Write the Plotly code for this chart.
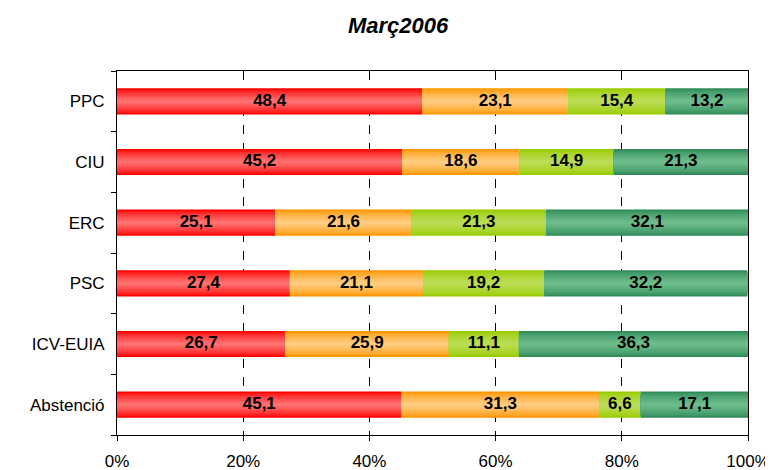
import plotly.graph_objects as go

parties = ["PPC", "CIU", "ERC", "PSC", "ICV-EUIA", "Abstenció"]
s1 = [48.4, 45.2, 25.1, 27.4, 26.7, 45.1]
s2 = [23.1, 18.6, 21.6, 21.1, 25.9, 31.3]
s3 = [15.4, 14.9, 21.3, 19.2, 11.1, 6.6]
s4 = [13.2, 21.3, 32.1, 32.2, 36.3, 17.1]

series = [s1, s2, s3, s4]
# edge colour -> centre colour, to fake the vertical gradient of the bars
shades = [
    ((255, 0, 0), (255, 112, 112)),
    ((255, 150, 0), (255, 204, 128)),
    ((153, 204, 0), (187, 221, 85)),
    ((46, 139, 87), (110, 188, 140)),
]
n_layers = 9
bar_w = 0.43


def mix(a, b, t):
    return "rgb(%d,%d,%d)" % tuple(round(a[k] + (b[k] - a[k]) * t) for k in range(3))


fig = go.Figure()
base = [0.0] * len(parties)
lx, ly, lt = [], [], []
for vals, (edge, centre) in zip(series, shades):
    for k in range(n_layers):
        t = k / (n_layers - 1)
        w = bar_w * (1 - t * 0.9)
        fig.add_trace(go.Bar(
            y=parties, x=vals, base=base, orientation="h", width=w,
            marker=dict(color=mix(edge, centre, t ** 0.7), line=dict(width=0)),
            hoverinfo="skip", showlegend=False,
        ))
    for i, v in enumerate(vals):
        lx.append(base[i] + v / 2)
        ly.append(parties[i])
        lt.append(f"{v:.1f}".replace(".", ","))
    base = [b + v for b, v in zip(base, vals)]

fig.add_trace(go.Scatter(
    x=lx, y=ly, mode="text", text=lt, showlegend=False, hoverinfo="skip",
    textfont=dict(family="Liberation Sans, Arial", size=17, color="black", weight="bold"),
))

# page body has an 8px margin, so the figure is sized/offset to compensate
fig.update_layout(
    barmode="overlay",
    width=765, height=462,
    margin=dict(l=109, r=25, t=63, b=35),
    plot_bgcolor="white", paper_bgcolor="white",
    font=dict(family="Liberation Sans, Arial", color="black"),
    title=dict(text="<b><i>Març2006</i></b>", x=0.51, xanchor="center",
               y=0.963, yanchor="middle", font=dict(size=22)),
)
fig.update_xaxes(
    range=[0, 100], tickvals=[0, 20, 40, 60, 80, 100],
    ticktext=["0%", "20%", "40%", "60%", "80%", "100%"],
    showgrid=True, gridcolor="black", griddash="dash", gridwidth=1,
    showline=True, linecolor="black", linewidth=1, mirror=True,
    ticks="outside", ticklen=5, tickcolor="black", ticklabelstandoff=6,
    tickfont=dict(size=17), zeroline=False, automargin=False,
)
fig.update_yaxes(
    categoryorder="array", categoryarray=parties[::-1],
    showline=True, linecolor="black", linewidth=1, mirror=True,
    ticks="outside", ticklen=5, tickcolor="black", tickson="boundaries",
    ticklabelstandoff=8, tickfont=dict(size=17), showgrid=False, automargin=False,
)

fig.write_html("out.html")
